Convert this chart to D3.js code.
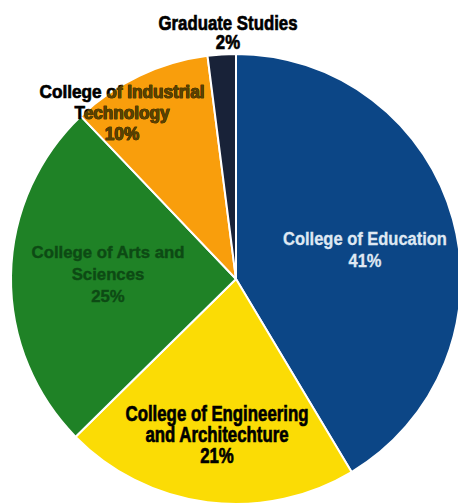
<!DOCTYPE html>
<html>
<head>
<meta charset="utf-8">
<script src="https://cdn.jsdelivr.net/npm/d3@7/dist/d3.min.js"></script>
<style>
html,body{margin:0;padding:0;background:#fff;}
svg{display:block;}
text{font-family:"Liberation Sans",Arial,sans-serif;font-weight:bold;}
</style>
</head>
<body>
<svg id="chart" width="458" height="504"></svg>
<script>
// ---- data ----
const categories = ["College of Education", "College of Engineering and Architechture", "College of Arts and Sciences", "College of Industrial Technology", "Graduate Studies"];
const values = [41, 21, 25, 10, 2];
const labelLines = [
  ["College of Education", "41%"],
  ["College of Engineering", "and Architechture", "21%"],
  ["College of Arts and", "Sciences", "25%"],
  ["College of Industrial", "Technology", "10%"],
  ["Graduate Studies", "2%"]
];
// ---- styles ----
const colors = ["#0c4686", "#fbdc05", "#1f8226", "#f99e0c", "#182238"];
const textColors = ["#dfe8f3", "#000000", "#0d4a14", "#000000", "#000000"];
const fontSizes = [18, 22, 17, 19, 21];
const lineGaps = [22, 21, 22, 21, 19];
const firstLineWidths = [164, 183, 153, 165, 139];
const strokeWidths = [0.3, 0.7, 0.4, 0.7, 0.7];
// label anchor (first baseline) relative to pie centre
const labelOffsets = [[129, -34], [-19, 142], [-128, -21], [-114, -181], [-8, -249]];

const W = 458, H = 504;
const cx = 236, cy = 279, R = 225;
const svg = d3.select("#chart");
const g = svg.append("g").attr("transform", `translate(${cx},${cy})`);

const pie = d3.pie().sort(null).value(d => d);
const arcs = pie(values);
const arc = d3.arc().innerRadius(0).outerRadius(R);

const defs = svg.append("defs");
arcs.forEach((a, i) => {
  defs.append("clipPath").attr("id", "clip" + i)
    .append("path").attr("d", arc(a)).attr("transform", `translate(${cx},${cy})`);
});

g.selectAll("path.slice").data(arcs).join("path")
  .attr("class", "slice")
  .attr("d", arc)
  .attr("fill", (d, i) => colors[i])
  .attr("stroke", "#fff")
  .attr("stroke-width", 2)
  .attr("stroke-linejoin", "round");

function measure(str, size) {
  const t = svg.append("text").attr("font-size", size).text(str);
  const w = t.node().getComputedTextLength();
  t.remove();
  return w;
}

function drawLabel(parent, i, color) {
  const sx = firstLineWidths[i] / measure(labelLines[i][0], fontSizes[i]);
  const lg = parent.append("g")
    .attr("transform", `translate(${cx + labelOffsets[i][0]},${cy + labelOffsets[i][1]}) scale(${sx},1)`);
  const t = lg.append("text")
    .attr("text-anchor", "middle")
    .attr("font-size", fontSizes[i])
    .attr("fill", color)
    .attr("stroke", color)
    .attr("stroke-width", strokeWidths[i]);
  labelLines[i].forEach((ln, k) => {
    t.append("tspan")
      .attr("x", 0)
      .attr("y", k * lineGaps[i])
      .text(ln);
  });
  return t;
}

categories.forEach((c, i) => {
  if (i === 3) {
    drawLabel(svg, i, "#000");
    const over = svg.append("g").attr("clip-path", "url(#clip3)");
    drawLabel(over, i, "#5b4300");
  } else {
    drawLabel(svg, i, textColors[i]);
  }
});
</script>
</body>
</html>
